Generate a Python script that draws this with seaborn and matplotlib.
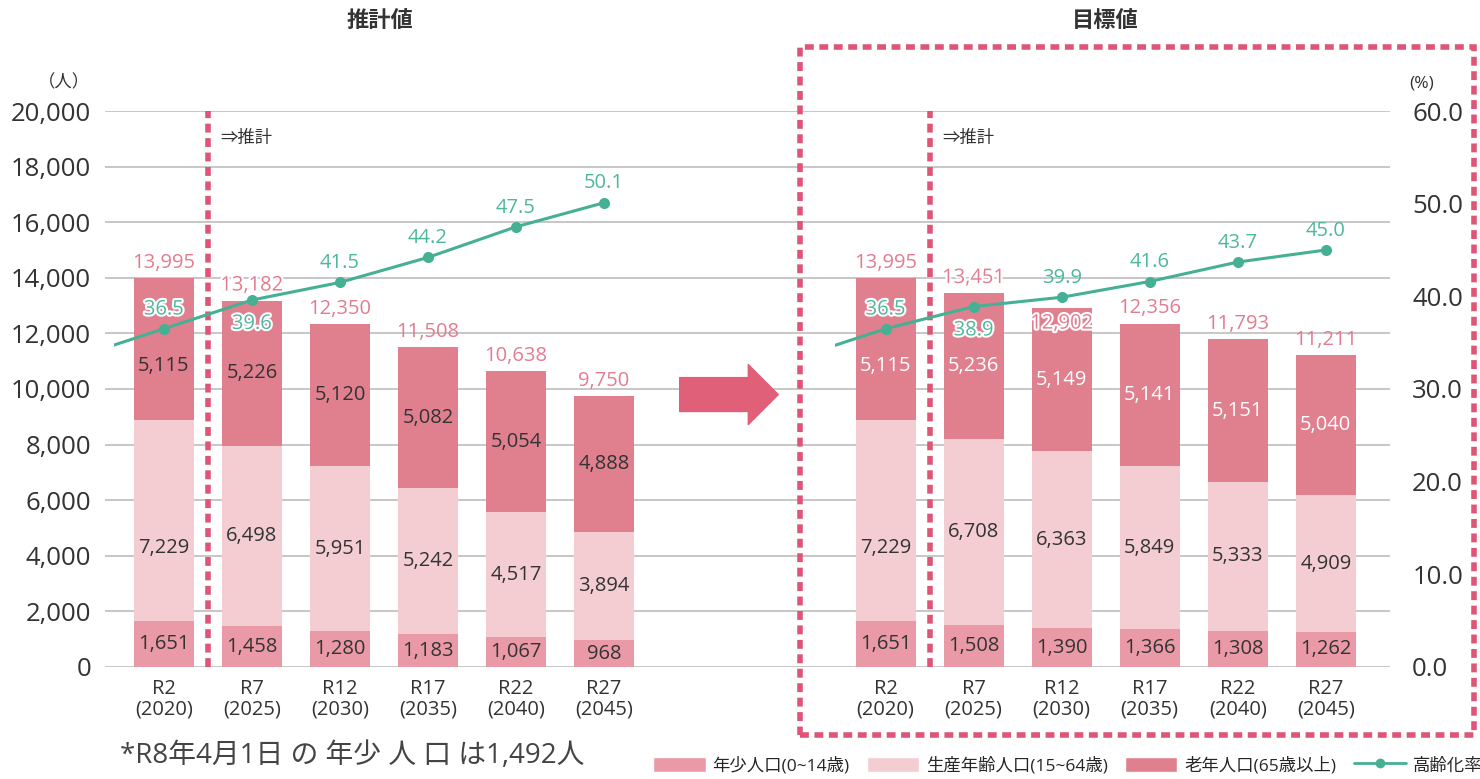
import seaborn as sns
import matplotlib.pyplot as plt
import matplotlib.patheffects as pe
from matplotlib.patches import Rectangle, Patch
from matplotlib.lines import Line2D
import pandas as pd

plt.switch_backend('Agg')

# data
years = ['R2\n(2020)', 'R7\n(2025)', 'R12\n(2030)', 'R17\n(2035)', 'R22\n(2040)', 'R27\n(2045)']

est_young = [1651, 1458, 1280, 1183, 1067, 968]
est_working = [7229, 6498, 5951, 5242, 4517, 3894]
est_elderly = [5115, 5226, 5120, 5082, 5054, 4888]
est_total = [13995, 13182, 12350, 11508, 10638, 9750]
est_rate = [36.5, 39.6, 41.5, 44.2, 47.5, 50.1]

tgt_young = [1651, 1508, 1390, 1366, 1308, 1262]
tgt_working = [7229, 6708, 6363, 5849, 5333, 4909]
tgt_elderly = [5115, 5236, 5149, 5141, 5151, 5040]
tgt_total = [13995, 13451, 12902, 12356, 11793, 11211]
tgt_rate = [36.5, 38.9, 39.9, 41.6, 43.7, 45.0]

prev_rate = 33.4  # H27 (2015), cut off by the left edge of each panel

C_YOUNG = '#E99AA6'
C_WORK = '#F3CDD2'
C_OLD = '#E0808F'
C_LINE = '#45B093'
C_LABEL_LINE = '#4DB89B'
C_TOTAL = '#E37C8F'
C_DASH = '#DE5578'
C_TEXT = '#333333'

sns.set_theme(style='white')
plt.rcParams['font.family'] = ['Open Sans', 'Noto Sans CJK JP', 'DejaVu Sans']

fig = plt.figure(figsize=(14.8, 7.79), dpi=100)
ax = fig.add_axes([0.0709, 0.1438, 0.8683, 0.7137])
ax2 = ax.twinx()

ax.set_xlim(-0.67, 13.93)
ax.set_ylim(0, 20000)
ax2.set_ylim(0, 60)
ax.set_axisbelow(True)
ax.yaxis.grid(True, color='#BDBDBD', linewidth=1.2)
ax.xaxis.grid(False)
for a in (ax, ax2):
    for s in a.spines.values():
        s.set_visible(False)

ax.set_yticks(range(0, 20001, 2000))
ax.set_yticklabels([f'{v:,}' for v in range(0, 20001, 2000)], fontsize=18.5, color=C_TEXT)
ax2.set_yticks(range(0, 61, 10))
ax2.set_yticklabels([f'{v:.1f}' for v in range(0, 61, 10)], fontsize=18.5, color=C_TEXT)
ax.tick_params(axis='y', length=0, pad=10)
ax2.tick_params(axis='y', length=0, pad=16)

BAR_W = 0.68
LBL = 14.5
panels = [
    (0.0, est_young, est_working, est_elderly, est_total, est_rate, C_TEXT),
    (8.2, tgt_young, tgt_working, tgt_elderly, tgt_total, tgt_rate, 'white'),
]

xticks = []
outline = [pe.withStroke(linewidth=3, foreground='white')]
for off, young, work, old, total, rate, top_color in panels:
    xs = [off + i for i in range(len(years))]
    xticks += xs
    b1 = [y + w for y, w in zip(young, work)]
    ax.bar(xs, young, width=BAR_W, color=C_YOUNG, linewidth=0, zorder=2)
    ax.bar(xs, work, bottom=young, width=BAR_W, color=C_WORK, linewidth=0, zorder=2)
    ax.bar(xs, old, bottom=b1, width=BAR_W, color=C_OLD, linewidth=0, zorder=2)
    for i, x in enumerate(xs):
        # first bar's labels are nudged down, away from the rate label
        shift = 1000 if i == 0 else 0
        ax.text(x, young[i] / 2, f'{young[i]:,}', ha='center', va='center',
                fontsize=LBL, color=C_TEXT, zorder=3)
        ax.text(x, young[i] + work[i] / 2 - shift, f'{work[i]:,}', ha='center', va='center',
                fontsize=LBL, color=C_TEXT, zorder=3)
        ax.text(x, b1[i] + old[i] / 2 - shift * 0.6, f'{old[i]:,}', ha='center', va='center',
                fontsize=LBL, color=top_color, zorder=3)
        # total label; one is pushed into the bar to avoid the rate label
        if off > 0 and i == 2:
            ax.text(x, b1[i] + old[i] - 550, f'{total[i]:,}', ha='center', va='center',
                    fontsize=LBL, color=C_TOTAL, zorder=3, path_effects=outline)
        else:
            ax.text(x, b1[i] + old[i] + 180, f'{total[i]:,}', ha='center', va='bottom',
                    fontsize=LBL, color=C_TOTAL, zorder=3,
                    path_effects=outline if i == 1 else None)

    # rate line (starts from the clipped previous point)
    df = pd.DataFrame({'x': [off - 1] + xs, 'rate': [prev_rate] + rate})
    sns.lineplot(data=df, x='x', y='rate', ax=ax2, color=C_LINE, linewidth=2.2,
                 marker='o', markersize=8, markeredgewidth=0, zorder=5)
    line = ax2.lines[-1]
    line.set_clip_path(Rectangle((off - 0.57, 0), 20, 100, transform=ax2.transData))
    for i, x in enumerate(xs):
        if i == 1:
            ax2.text(x, rate[i] - 1.5, f'{rate[i]:.1f}', ha='center', va='top',
                     fontsize=LBL, color=C_LABEL_LINE, zorder=6, path_effects=outline)
        else:
            ax2.text(x, rate[i] + 1.0, f'{rate[i]:.1f}', ha='center', va='bottom',
                     fontsize=LBL, color=C_LABEL_LINE, zorder=6,
                     path_effects=outline if i == 0 else None)

    # projection boundary
    ax.plot([off + 0.5, off + 0.5], [0, 20000], color=C_DASH, linewidth=4,
            dashes=(1.6, 1.0), zorder=4, solid_capstyle='butt')
    ax.text(off + 0.64, 19000, '⇒推計', fontsize=12.5, color=C_TEXT, va='center')

ax.set_xticks(xticks)
ax.set_xticklabels(years * 2, fontsize=14.5, color=C_TEXT, linespacing=1.0)
ax.tick_params(axis='x', length=0, pad=9)
ax2.set_xlabel('')
ax2.set_ylabel('')

# arrow between the two panels
ax.annotate('', xy=(6.98, 9800), xytext=(5.86, 9800),
            arrowprops=dict(arrowstyle='simple,head_length=1.08,head_width=2.16,tail_width=1.22',
                            mutation_scale=20, color='#E0607A', shrinkA=0, shrinkB=0))

# unit labels
fig.text(0.061, 0.893, '（人）', fontsize=12.5, color=C_TEXT, ha='right', va='center')
fig.text(0.952, 0.893, '(%)', fontsize=12.5, color=C_TEXT, ha='left', va='center')

# titles
fig.text(0.257, 0.972, '推計値', fontsize=16, color=C_TEXT, ha='center', va='center',
         fontweight='bold')
fig.text(0.747, 0.972, '目標値', fontsize=16, color=C_TEXT, ha='center', va='center',
         fontweight='bold')

# dashed box around the target panel
fig.patches.append(Rectangle((0.5405, 0.0565), 0.4555, 0.883, transform=fig.transFigure,
                             fill=False, edgecolor=C_DASH, linewidth=4,
                             linestyle=(0, (1.6, 1.0))))

# footnote
fig.text(0.081, 0.030, '*R8年4月1日 の 年少 人 口 は1,492人', fontsize=20, color='#444444',
         ha='left', va='center')

# legend
handles = [
    Patch(facecolor=C_YOUNG, label='年少人口(0~14歳)'),
    Patch(facecolor=C_WORK, label='生産年齢人口(15~64歳)'),
    Patch(facecolor=C_OLD, label='老年人口(65歳以上)'),
    Line2D([0], [0], color=C_LINE, linewidth=2, marker='o', markersize=6,
           label='高齢化率'),
]
fig.legend(handles=handles, loc='lower right', bbox_to_anchor=(1.012, -0.014), ncol=4,
           frameon=False, fontsize=12.5, handlelength=3.0, handleheight=1.0,
           columnspacing=1.0, handletextpad=0.4)

fig.savefig('out.png', dpi=100)
plt.close(fig)
